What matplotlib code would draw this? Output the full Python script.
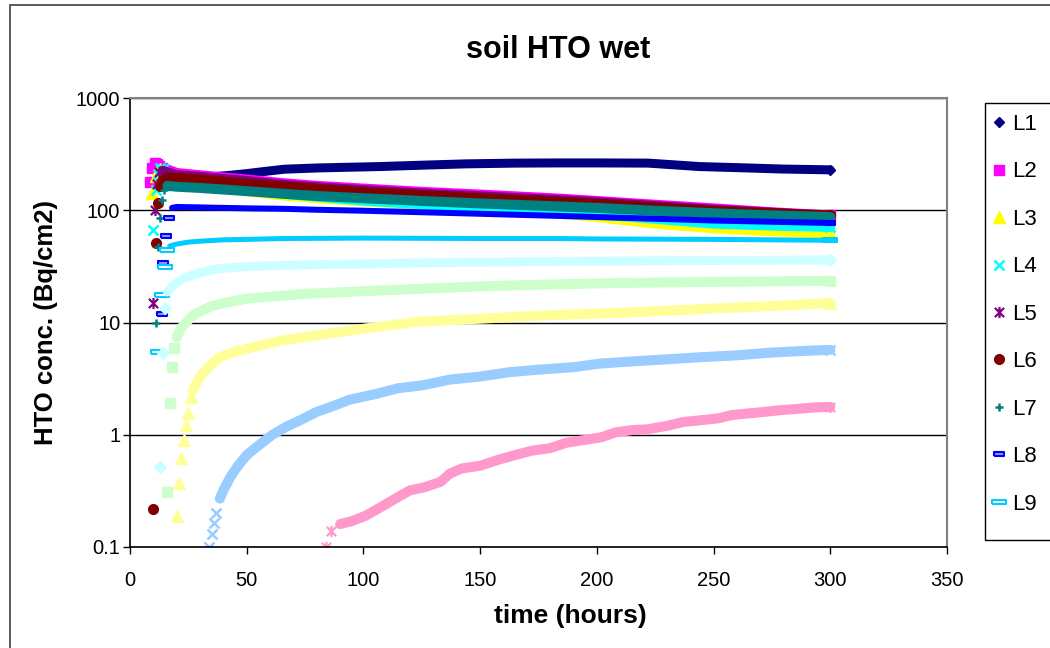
import matplotlib
matplotlib.use("Agg")
import matplotlib.pyplot as plt
from matplotlib.lines import Line2D
from matplotlib.patches import Rectangle
from matplotlib.path import Path

plt.rcParams["font.family"] = ["Liberation Sans", "DejaVu Sans"]

# ---- data ----
# each series: early sparse points (markers only) + the dense band
l1_t_early, l1_v_early = [], []
l1_t = [15, 25, 33, 41, 50, 58, 66, 80, 95, 107, 125, 144, 165, 184, 200, 222, 244, 265, 279, 300]
l1_v = [190, 195, 198, 203, 212, 222, 232, 238, 242, 245, 252, 259, 263, 264, 264, 263, 245, 238, 233, 229]

l2_t_early, l2_v_early = [8.5, 9.5, 10.5, 11.5, 12.5, 13.5], [180, 240, 265, 260, 250, 240]
l2_t = [14, 20, 30, 40, 50, 66, 80, 100, 125, 150, 184, 200, 225, 250, 275, 300]
l2_v = [240, 215, 205, 196, 188, 174, 165, 156, 146, 138, 127, 121, 112, 104, 96, 90]

l3_t_early, l3_v_early = [9.5, 11, 12, 13], [143, 200, 230, 235]
l3_t = [15, 20, 30, 40, 50, 66, 80, 100, 125, 150, 175, 200, 225, 250, 275, 300]
l3_v = [200, 180, 165, 155, 148, 135, 128, 120, 112, 105, 97, 87, 76, 69, 65, 62]

l4_t_early, l4_v_early = [10, 11, 12, 13, 14], [67, 150, 210, 240, 235]
l4_t = [15, 20, 30, 40, 50, 66, 80, 100, 125, 150, 184, 200, 225, 250, 275, 300]
l4_v = [225, 190, 172, 160, 152, 140, 132, 122, 113, 106, 97, 92, 84, 76, 73, 71]

l5_t_early, l5_v_early = [9.8, 10.5, 11.5, 12.5], [15, 100, 170, 220]
l5_t = [14, 20, 30, 40, 50, 66, 80, 100, 125, 150, 184, 200, 225, 250, 275, 300]
l5_v = [225, 205, 198, 190, 182, 168, 160, 151, 141, 133, 123, 118, 109, 101, 95, 89]

l6_t_early, l6_v_early = [10, 11, 12, 13], [0.22, 51, 116, 165]
l6_t = [14, 16, 20, 30, 40, 50, 66, 80, 100, 125, 150, 184, 200, 225, 250, 275, 300]
l6_v = [185, 195, 194, 188, 180, 172, 163, 155, 145, 136, 128, 119, 114, 106, 99, 94, 90]

l7_t_early, l7_v_early = [11, 12, 12.8, 13.5, 14.5], [10, 47, 85, 123, 150]
l7_t = [16, 20, 30, 40, 50, 66, 80, 100, 125, 150, 184, 200, 225, 250, 275, 300]
l7_v = [165, 162, 158, 153, 148, 140, 134, 128, 121, 115, 108, 105, 99, 94, 90, 87]

l8_t_early, l8_v_early = [13.7, 14.3, 15.5, 16.5], [12, 34, 59, 85]
l8_t = [18, 20, 30, 40, 50, 66, 80, 100, 125, 150, 184, 200, 225, 250, 275, 300]
l8_v = [105, 107, 106, 105, 104, 103, 101, 99, 96, 93, 89, 87, 84, 81, 79, 77]

l9_t_early, l9_v_early = [12, 13.5, 15, 16], [5.5, 17.6, 31, 44]
l9_t = [17, 20, 25, 30, 40, 50, 66, 100, 150, 184, 200, 250, 300]
l9_v = [48, 50, 52, 53, 54.5, 55, 56, 56.5, 56, 56, 55.5, 55, 54]

l10_t_early, l10_v_early = [12.8, 14, 15], [0.52, 5.3, 13.5]
l10_t = [16, 18, 20, 23.5, 28, 35, 41, 50, 60, 80, 100, 126, 150, 200, 250, 300]
l10_v = [18.7, 21, 22.5, 25, 27, 29.5, 30.6, 31.5, 32, 32.8, 33.2, 34, 34.5, 35.2, 35.7, 36]

l11_t_early, l11_v_early = [16, 17, 17.8, 18.8], [0.31, 1.92, 4.0, 5.9]
l11_t = [20, 22, 25, 28, 35, 41, 50, 60, 75, 100, 126, 150, 175, 210, 250, 300]
l11_v = [7.4, 9, 10.5, 12, 14, 15, 16.3, 17, 18, 19, 20, 21, 21.7, 22.5, 23, 23.5]

l12_t_early = [20, 21, 21.8, 23, 24, 24.8, 26]
l12_v_early = [0.19, 0.37, 0.62, 0.9, 1.22, 1.56, 2.17]
l12_t = [27, 30, 34, 38.5, 45, 53, 65, 80, 100, 124, 150, 175, 210, 250, 275, 300]
l12_v = [2.5, 3.3, 4.1, 4.9, 5.5, 6.05, 6.9, 7.7, 8.8, 10.2, 10.8, 11.5, 12.2, 13.3, 14, 14.9]

l13_t_early, l13_v_early = [34, 35, 36, 36.8], [0.1, 0.13, 0.165, 0.2]
l13_t = [38.5, 40, 43, 46, 50, 55, 61, 67, 73, 80, 87, 94, 105, 115, 125, 137,
         150, 162, 175, 190, 201, 215, 230, 244, 260, 275, 290, 300]
l13_v = [0.27, 0.32, 0.42, 0.52, 0.66, 0.8, 1.0, 1.18, 1.35, 1.6, 1.8, 2.05, 2.3, 2.6, 2.75, 3.1,
         3.3, 3.6, 3.8, 4.0, 4.3, 4.5, 4.7, 4.9, 5.1, 5.4, 5.6, 5.7]

l14_t_early, l14_v_early = [84, 86], [0.1, 0.14]
l14_t = [90, 95, 101, 108, 115, 120, 126, 133, 137, 142, 150, 158, 165, 172, 180, 187, 195,
         202, 208, 215, 222, 230, 237, 245, 252, 258, 265, 272, 279, 286, 293, 300]
l14_v = [0.16, 0.17, 0.19, 0.23, 0.28, 0.32, 0.34, 0.38, 0.45, 0.5, 0.53, 0.6, 0.66, 0.72, 0.76,
         0.85, 0.9, 0.95, 1.05, 1.1, 1.12, 1.2, 1.3, 1.35, 1.4, 1.5, 1.55, 1.6, 1.66, 1.7, 1.75, 1.77]

names = ["L1", "L2", "L3", "L4", "L5", "L6", "L7", "L8", "L9", "L10", "L11", "L12", "L13", "L14"]

# ---- marker shapes ----
star = Path([(-1, -1), (1, 1), (-1, 1), (1, -1), (0, -1.2), (0, 1.2)],
            [Path.MOVETO, Path.LINETO, Path.MOVETO, Path.LINETO, Path.MOVETO, Path.LINETO])
dash_short = Path([(-1, -0.5), (1, -0.5), (1, 0.5), (-1, 0.5), (-1, -0.5)])
dash_long = Path([(-1, -0.3), (1, -0.3), (1, 0.3), (-1, 0.3), (-1, -0.3)])

# (color, marker, marker size, marker edge width, face, band width px)
styles = [
    ("#000080", "D", 5, 1, None, 9),
    ("#FF00FF", "s", 6.5, 1, None, 10),
    ("#FFFF00", "^", 8, 1, None, 10),
    ("#00FFFF", "x", 7.5, 1.8, None, 10),
    ("#800080", star, 8, 1.6, None, 10),
    ("#800000", "o", 7, 1, None, 10),
    ("#008080", "+", 6, 1.8, None, 10),
    ("#0000FF", dash_short, 7, 1.5, "#9999FF", 6),
    ("#00CCFF", dash_long, 10, 1.5, "white", 5),
    ("#CCFFFF", "D", 6, 1, None, 9),
    ("#CCFFCC", "s", 7, 1, None, 10),
    ("#FFFF99", "^", 8, 1, None, 10),
    ("#99CCFF", "x", 7, 1.8, None, 10),
    ("#FF99CC", star, 8, 1.6, None, 10),
]

series = [
    (l1_t_early, l1_v_early, l1_t, l1_v), (l2_t_early, l2_v_early, l2_t, l2_v),
    (l3_t_early, l3_v_early, l3_t, l3_v), (l4_t_early, l4_v_early, l4_t, l4_v),
    (l5_t_early, l5_v_early, l5_t, l5_v), (l6_t_early, l6_v_early, l6_t, l6_v),
    (l7_t_early, l7_v_early, l7_t, l7_v), (l8_t_early, l8_v_early, l8_t, l8_v),
    (l9_t_early, l9_v_early, l9_t, l9_v), (l10_t_early, l10_v_early, l10_t, l10_v),
    (l11_t_early, l11_v_early, l11_t, l11_v), (l12_t_early, l12_v_early, l12_t, l12_v),
    (l13_t_early, l13_v_early, l13_t, l13_v), (l14_t_early, l14_v_early, l14_t, l14_v),
]

W, H = 1050, 648
fig = plt.figure(figsize=(W / 100, H / 100), dpi=100)
ax = fig.add_axes([130 / W, 1 - 547 / H, (947 - 130) / W, (547 - 98) / H])

handles = []
for (te, ve, tb, vb), (c, m, ms, mew, fc, bw) in zip(series, styles):
    face = fc if fc is not None else c
    # dense run of markers in the original -> thick line, marker only at the end
    ax.plot(tb, vb, color=c, lw=bw * 0.72, solid_capstyle="round", solid_joinstyle="round",
            marker=m, markevery=[len(tb) - 1], ms=ms, mew=mew, mec=c, mfc=c)
    if te:
        ax.plot(te, ve, linestyle="none", marker=m, ms=ms, mew=mew, mec=c, mfc=face)
    handles.append(Line2D([], [], linestyle="none", marker=m, ms=ms, mew=mew, mec=c, mfc=face))

ax.set_yscale("log")
ax.set_ylim(0.1, 1000)
ax.set_xlim(0, 350)
ax.set_xticks(range(0, 351, 50))
ax.set_yticks([0.1, 1, 10, 100, 1000])
ax.set_yticklabels(["0.1", "1", "10", "100", "1000"])
ax.minorticks_off()
ax.tick_params(direction="out", length=5, width=1, labelsize=14.5, colors="black")
ax.tick_params(axis="x", pad=12)
ax.tick_params(axis="y", pad=2)
ax.yaxis.grid(True, which="major", color="black", lw=1)
ax.set_axisbelow(True)
for s in ["left", "bottom"]:
    ax.spines[s].set_color("black")
    ax.spines[s].set_linewidth(1.2)
for s in ["top", "right"]:
    ax.spines[s].set_color("#808080")
    ax.spines[s].set_linewidth(1.5)

ax.set_xlabel("time (hours)", fontsize=19, fontweight="bold")
ax.xaxis.set_label_coords((570 - 130) / 817, (547 - 604) / 449)
ax.set_ylabel("HTO conc. (Bq/cm2)", fontsize=18.5, fontweight="bold")
ax.yaxis.set_label_coords((58 - 130) / 817, 0.5)
fig.text(558 / W, 1 - 50 / H, "soil HTO wet", fontsize=22, fontweight="bold",
         ha="center", va="center")

# outer chart frame
fig.patches.append(Rectangle((10 / W, -0.1), 1.2, 1.1 - 5 / H, transform=fig.transFigure,
                             fill=False, edgecolor="#404040", lw=1.2))
# legend box (runs off the right edge like the original)
fig.patches.append(Rectangle((985 / W, 1 - 540 / H), 0.2, 437 / H, transform=fig.transFigure,
                             fill=False, edgecolor="black", lw=1))
fig.legend(handles[:9], names[:9], loc="upper left", bbox_to_anchor=(990 / W, 1 - 114 / H),
           frameon=False, fontsize=16, labelspacing=1.19, handlelength=0.8,
           handletextpad=0.2, borderpad=0, borderaxespad=0)

fig.savefig("out.png", dpi=100)
